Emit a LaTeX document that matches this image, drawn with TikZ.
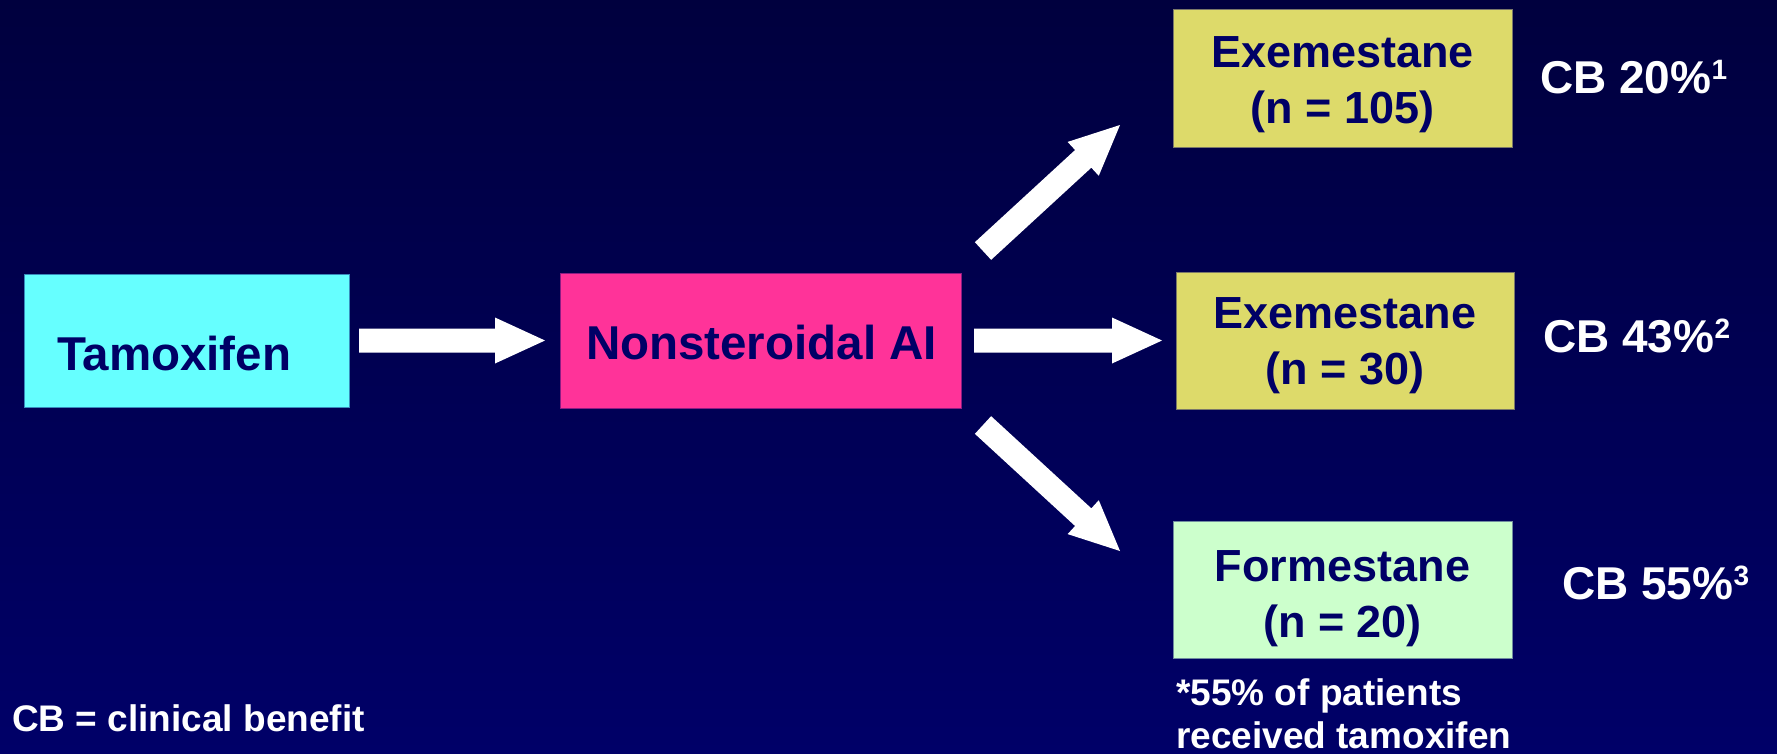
\documentclass[tikz,border=0pt]{standalone}
\usepackage{fontspec}
\setmainfont{Liberation Sans}
\usetikzlibrary{calc}
\definecolor{bgtop}{RGB}{0,0,62}
\definecolor{bgbot}{RGB}{0,0,104}
\definecolor{navytext}{RGB}{0,0,102}
\definecolor{tamcyan}{RGB}{102,255,255}
\definecolor{aipink}{RGB}{255,51,153}
\definecolor{exyellow}{RGB}{221,218,106}
\definecolor{formgreen}{RGB}{204,255,204}
\newcommand\fsz[2]{\fontsize{#1}{#2}\selectfont}
\newcommand\supnum[1]{\raisebox{14pt}{\fsz{28}{28}#1}}
\newcommand\blockarrow[2]{%
  \coordinate (hb) at ($(#2)!50pt!(#1)$);
  \fill[white] ($(#1)!12pt!90:(#2)$) -- ($(hb)!12pt!-90:(#1)$) -- ($(hb)!23pt!-90:(#1)$) -- (#2)
    -- ($(hb)!23pt!90:(#1)$) -- ($(hb)!12pt!90:(#1)$) -- ($(#1)!12pt!-90:(#2)$) -- cycle;}
\begin{document}
\begin{tikzpicture}[x=1pt,y=-1pt,
  box/.style={fill=#1, draw=#1!55!bgbot, line width=1pt, inner sep=0pt},
  boxtext/.style={text=navytext, font=\bfseries\fsz{45}{56}, align=center, anchor=base, inner sep=0pt},
  bigtext/.style={text=navytext, font=\bfseries\fsz{47.5}{56}, inner sep=0pt},
  cbtext/.style={text=white, font=\bfseries\fsz{46}{56}, anchor=base west, inner sep=0pt},
  notetext/.style={text=white, font=\bfseries\fsz{37}{43}, anchor=base west, align=left, inner sep=0pt}]
\useasboundingbox (0,0) rectangle (1777,753);
\shade[top color=bgtop, bottom color=bgbot] (0,0) rectangle (1777,753);

% boxes
\node[box=tamcyan, minimum width=325pt, minimum height=133pt] (tam) at (186.5,340.5) {};
\node[bigtext, anchor=base west] (tamtext) at (57,370) {Tamoxifen};
\node[box=aipink, minimum width=401pt, minimum height=135pt] (ai) at (760.5,340.5) {};
\node[bigtext, anchor=base] (aitext) at (761.5,359) {Nonsteroidal AI};

% (anchor base = baseline of the last line)
\node[box=exyellow, minimum width=339pt, minimum height=138pt] (ex1) at (1342.5,78) {};
\node[boxtext] (ex1text) at (1342.5,123) {Exemestane\\(n = 105)};
\node[box=exyellow, minimum width=338pt, minimum height=137pt] (ex2) at (1345,340.5) {};
\node[boxtext] (ex2text) at (1345,384) {Exemestane\\(n = 30)};
\node[box=formgreen, minimum width=339pt, minimum height=137pt] (form) at (1342.5,589.5) {};
\node[boxtext] (formtext) at (1342.5,637) {Formestane\\(n = 20)};

% results
\node[cbtext] (cb1) at (1540,93) {CB 20\%\supnum{1}};
\node[cbtext] (cb2) at (1543,352) {CB 43\%\supnum{2}};
\node[cbtext] (cb3) at (1562,599) {CB 55\%\supnum{3}};

% notes
\node[notetext] (note) at (1176,748) {*55\% of patients\\received tamoxifen};
\node[notetext] (legend) at (12,731) {CB = clinical benefit};

% arrows
\coordinate (a1s) at (359,340.5);
\coordinate (a1e) at (545,340.5);
\coordinate (a2s) at (974,340.5);
\coordinate (a2e) at (1162,340.5);
\coordinate (a3s) at (983,251);
\coordinate (a3e) at (1120,125);
\coordinate (a4s) at (983,425);
\coordinate (a4e) at (1120,551);
\blockarrow{a1s}{a1e}
\blockarrow{a2s}{a2e}
\blockarrow{a3s}{a3e}
\blockarrow{a4s}{a4e}
\end{tikzpicture}
\end{document}
